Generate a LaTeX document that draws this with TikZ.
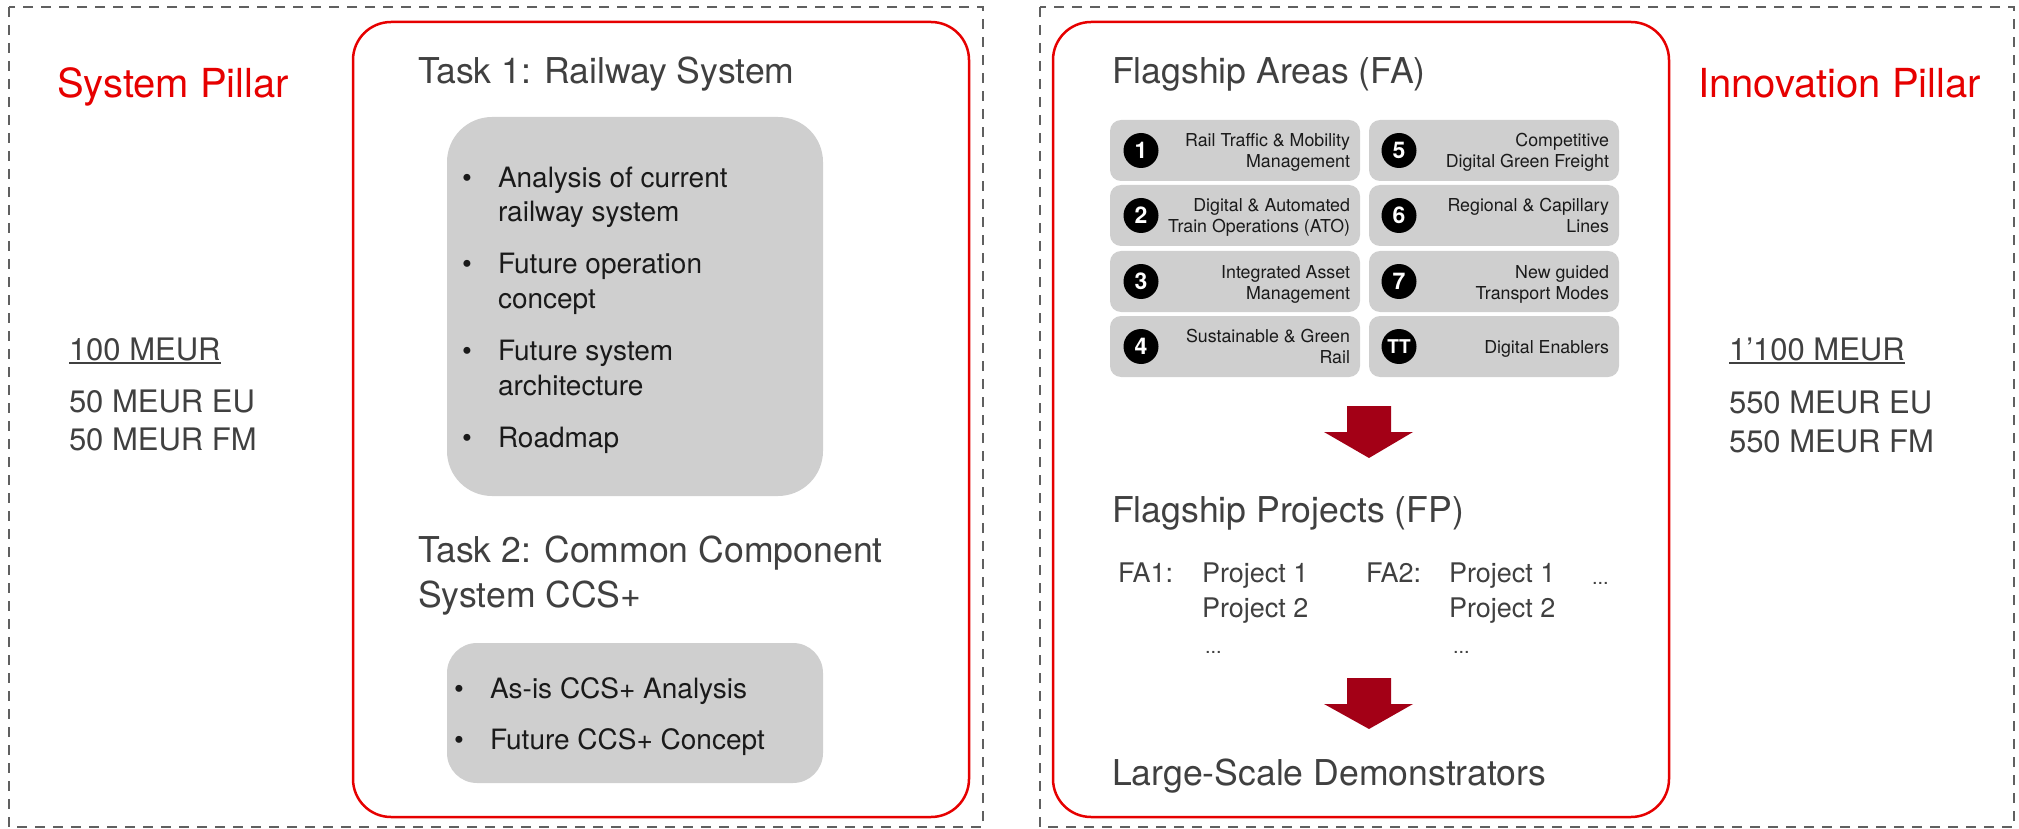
\documentclass[tikz,border=0pt]{standalone}
\usepackage{fontspec}
\setmainfont{TeX Gyre Heros}
\definecolor{pillarred}{RGB}{230,0,0}
\definecolor{dashgray}{RGB}{96,96,96}
\definecolor{boxgray}{RGB}{207,207,207}
\definecolor{txtgray}{RGB}{64,64,64}
\definecolor{txtdark}{RGB}{26,26,26}
\definecolor{arrowred}{RGB}{163,0,22}
\newcommand{\myfs}[1]{\fontsize{#1}{#1}\selectfont}
\begin{document}
\begin{tikzpicture}[x=1pt,y=-1pt,
  every node/.style={inner sep=0pt, outer sep=0pt},
  pillarbox/.style={draw=dashgray, line width=2.3pt, dash pattern=on 10pt off 8pt},
  redbox/.style={draw=pillarred, line width=2.5pt, rounded corners=38pt},
  graybox/.style={fill=boxgray, anchor=north west},
  pillar/.style={anchor=base west, text=pillarred, font=\myfs{40}},
  heading/.style={anchor=base west, text=txtgray, font=\myfs{35.6}},
  money/.style={anchor=base west, text=txtgray, font=\myfs{31}},
  item/.style={anchor=base west, text=txtdark, font=\myfs{28}},
  bul/.style={anchor=base, text=txtdark, font=\myfs{28}},
  fabox/.style={fill=boxgray, rounded corners=11pt, minimum width=250pt, minimum height=61pt, anchor=north west},
  fanum/.style={circle, fill=black, minimum size=35pt, text=white, font=\bfseries\myfs{23}},
  fatext/.style={anchor=base east, text=txtdark, font=\myfs{17.8}},
  proj/.style={anchor=base west, text=txtgray, font=\myfs{27}},
  dots/.style={anchor=base west, text=txtgray, font=\myfs{20}},
  blockarrow/.style={fill=arrowred},
  uline/.style={draw=txtgray, line width=1.5pt}
]
\useasboundingbox (0,0) rectangle (2019,829);

% ---------- frames ----------
\draw[pillarbox] (9,7) rectangle (983,827);
\draw[pillarbox] (1040,7) rectangle (2014,827);
\draw[redbox] (353,22) rectangle (969,817);
\draw[redbox] (1053,22) rectangle (1669,817);

% ---------- System Pillar ----------
\node[pillar] (sp) at (57,98) {System Pillar};
\node[money] (spm) at (69,360) {100 MEUR};
\draw[uline] ([yshift=-3pt]spm.base west) -- ([yshift=-3pt]spm.base east);
\node[money] (spe) at (69,412) {50 MEUR EU};
\node[money] (spf) at (69,450) {50 MEUR FM};

\node[heading] (t1) at (418,84) {Task 1: Railway System};
\node[graybox, rounded corners=45pt, minimum width=376pt, minimum height=379pt] (t1box) at (447,117) {};
\node[bul] (b1) at (467,188) {\textbullet};
\node[item] (i1a) at (498,188) {Analysis of current};
\node[item] (i1b) at (498,222) {railway system};
\node[bul] (b2) at (467,273) {\textbullet};
\node[item] (i2a) at (498,273) {Future operation};
\node[item] (i2b) at (498,308) {concept};
\node[bul] (b3) at (467,360) {\textbullet};
\node[item] (i3a) at (498,360) {Future system};
\node[item] (i3b) at (498,395) {architecture};
\node[bul] (b4) at (467,447) {\textbullet};
\node[item] (i4a) at (498,447) {Roadmap};

\node[heading] (t2a) at (418,562) {Task 2: Common Component};
\node[heading] (t2b) at (418,607) {System CCS+};
\node[graybox, rounded corners=30pt, minimum width=376pt, minimum height=140pt] (t2box) at (447,643) {};
\node[bul] (c1) at (459,698) {\textbullet};
\node[item] (j1) at (490,698) {As-is CCS+ Analysis};
\node[bul] (c2) at (459,749) {\textbullet};
\node[item] (j2) at (490,749) {Future CCS+ Concept};

% ---------- Innovation Pillar ----------
\node[heading] (fa) at (1112,84) {Flagship Areas (FA)};

\node[fabox] (fa1) at (1110,120) {};
\node[fanum] (n1) at (1141,150.5) {1};
\node[fatext] at (1350,147) {Rail Traffic \& Mobility};
\node[fatext] at (1350,168) {Management};

\node[fabox] (fa2) at (1110,185) {};
\node[fanum] (n2) at (1141,215.5) {2};
\node[fatext] at (1350,212) {Digital \& Automated};
\node[fatext] at (1350,233) {Train Operations (ATO)};

\node[fabox] (fa3) at (1110,251) {};
\node[fanum] (n3) at (1141,281.5) {3};
\node[fatext] at (1350,278) {Integrated Asset};
\node[fatext] at (1350,299) {Management};

\node[fabox] (fa4) at (1110,316) {};
\node[fanum] (n4) at (1141,346.5) {4};
\node[fatext] at (1350,342) {Sustainable \& Green};
\node[fatext] at (1350,363) {Rail};

\node[fabox] (fa5) at (1369,120) {};
\node[fanum] (n5) at (1399,150.5) {5};
\node[fatext] at (1609,147) {Competitive};
\node[fatext] at (1609,168) {Digital Green Freight};

\node[fabox] (fa6) at (1369,185) {};
\node[fanum] (n6) at (1399,215.5) {6};
\node[fatext] at (1609,212) {Regional \& Capillary};
\node[fatext] at (1609,233) {Lines};

\node[fabox] (fa7) at (1369,251) {};
\node[fanum] (n7) at (1399,281.5) {7};
\node[fatext] at (1609,278) {New guided};
\node[fatext] at (1609,299) {Transport Modes};

\node[fabox] (fa8) at (1369,316) {};
\node[fanum, font=\bfseries\myfs{19}] (n8) at (1399,346.5) {TT};
\node[fatext] at (1609,353) {Digital Enablers};

\fill[blockarrow] (1347,406) -- (1391,406) -- (1391,432) -- (1413,432) -- (1369,458) -- (1324,432) -- (1347,432) -- cycle;

\node[heading] (fp) at (1112,522) {Flagship Projects (FP)};
\node[proj] (p1) at (1118,582) {FA1:};
\node[proj] (p1a) at (1202,582) {Project 1};
\node[proj] (p1b) at (1202,617) {Project 2};
\node[dots] (p1c) at (1205,653) {...};
\node[proj] (p2) at (1366,582) {FA2:};
\node[proj] (p2a) at (1449,582) {Project 1};
\node[proj] (p2b) at (1449,617) {Project 2};
\node[dots] (p2c) at (1453,653) {...};
\node[dots] (p3) at (1592,584) {...};

\fill[blockarrow] (1347,678) -- (1391,678) -- (1391,704) -- (1413,704) -- (1369,729) -- (1324,704) -- (1347,704) -- cycle;

\node[heading] (lsd) at (1112,785) {Large-Scale Demonstrators};

\node[pillar] (ip) at (1698,98) {Innovation Pillar};
\node[money] (ipm) at (1729,360) {1’100 MEUR};
\draw[uline] ([yshift=-3pt]ipm.base west) -- ([yshift=-3pt]ipm.base east);
\node[money] (ipe) at (1729,413) {550 MEUR EU};
\node[money] (ipf) at (1729,452) {550 MEUR FM};
\end{tikzpicture}
\end{document}
